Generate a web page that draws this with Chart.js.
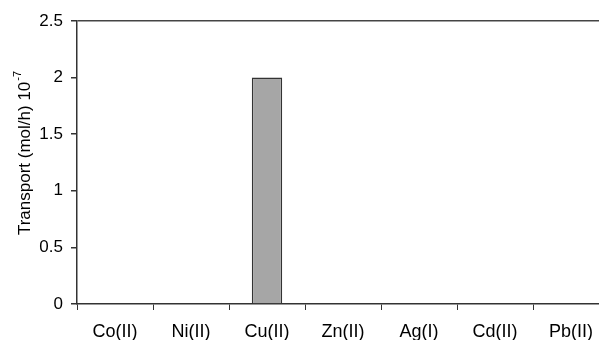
<!DOCTYPE html>
<html>
<head>
<meta charset="utf-8">
<script src="https://cdn.jsdelivr.net/npm/chart.js@4/dist/chart.umd.min.js"></script>
<style>
html,body{margin:0;padding:0;background:#fff;overflow:hidden;}
#wrap{width:609px;height:340px;position:relative;}
</style>
</head>
<body>
<div id="wrap"><canvas id="c"></canvas></div>
<script>
const categories = ["Co(II)", "Ni(II)", "Cu(II)", "Zn(II)", "Ag(I)", "Cd(II)", "Pb(II)"];
const transport = [0, 0, 2, 0, 0, 0, 0];
const yTicks = [0, 0.5, 1, 1.5, 2, 2.5];
const yTitle = "Transport (mol/h) 10";
const yTitleSup = "-7";

const FONT = "'Liberation Sans', Arial, sans-serif";

const titlePlugin = {
  id: 'ytitle',
  afterDraw(chart) {
    const ctx = chart.ctx;
    ctx.save();
    ctx.translate(25, 153);
    ctx.rotate(-Math.PI / 2);
    ctx.fillStyle = '#000';
    ctx.textBaseline = 'middle';
    ctx.font = "17px " + FONT;
    const w1 = ctx.measureText(yTitle).width;
    ctx.font = "11px " + FONT;
    const w2 = ctx.measureText(yTitleSup).width;
    const total = w1 + 1 + w2;
    ctx.font = "17px " + FONT;
    ctx.textAlign = 'left';
    ctx.fillText(yTitle, -total / 2, 0);
    ctx.font = "11px " + FONT;
    ctx.fillText(yTitleSup, -total / 2 + w1 + 1, -7);
    ctx.restore();
  }
};

new Chart(document.getElementById('c'), {
  type: 'bar',
  data: {
    labels: categories,
    datasets: [{
      data: transport,
      backgroundColor: '#a6a6a6',
      borderColor: '#333333',
      borderWidth: 1.5,
      barPercentage: 0.4,
      categoryPercentage: 1.0
    }]
  },
  options: {
    responsive: true,
    maintainAspectRatio: false,
    animation: false,
    layout: { padding: { top: 21, right: 0, left: 0, bottom: 0 } },
    plugins: { legend: { display: false }, tooltip: { enabled: false } },
    scales: {
      x: {
        grid: {
          offset: true,
          drawOnChartArea: false,
          tickLength: 6,
          tickColor: '#333',
          color: '#333'
        },
        border: { color: '#333', width: 1.5 },
        ticks: { color: '#000', font: { family: FONT, size: 18 }, padding: 11, maxRotation: 0 },
        afterFit(s) { s.height = 36; }
      },
      y: {
        min: 0,
        max: 2.5,
        afterBuildTicks(s) { s.ticks = yTicks.map(v => ({ value: v })); },
        grid: {
          color: ctx => (ctx.tick && ctx.tick.value === 2.5) ? '#444' : 'rgba(0,0,0,0)',
          lineWidth: 1.5,
          tickColor: '#333',
          tickLength: 6
        },
        border: { color: '#333', width: 1.5 },
        ticks: {
          color: '#000', font: { family: FONT, size: 17 }, padding: 8,
          callback: v => String(v)
        },
        afterFit(s) { s.width = 77; }
      }
    }
  },
  plugins: [titlePlugin]
});
</script>
</body>
</html>
